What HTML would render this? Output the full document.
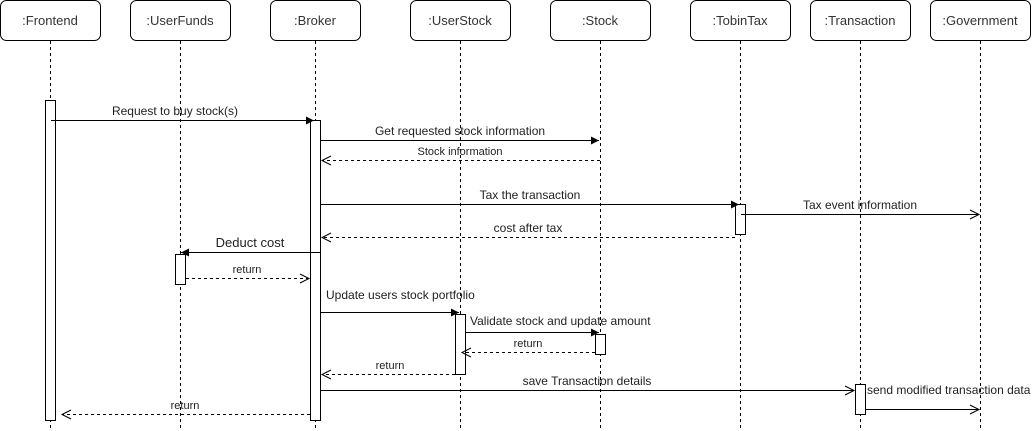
<!DOCTYPE html>
<html><head><meta charset="utf-8"><style>
html,body{margin:0;padding:0;background:#fff;}
svg{display:block;font-family:"Liberation Sans",Arial,sans-serif;}
</style></head><body>
<svg width="1034" height="431" viewBox="0 0 1034 431" xmlns="http://www.w3.org/2000/svg">
<defs>
<marker id="f" markerWidth="10" markerHeight="10" refX="9" refY="5" orient="auto" markerUnits="userSpaceOnUse"><path d="M1,1 L9,5 L1,9 Z" fill="#000"/></marker>
<marker id="o" markerWidth="12" markerHeight="12" refX="10" refY="6" orient="auto" markerUnits="userSpaceOnUse"><path d="M1,1.5 L10,6 L1,10.5" fill="none" stroke="#000" stroke-width="1"/></marker>
</defs>
<g fill="#fff" stroke="#000" stroke-width="1">
<rect x="0.5" y="0.5" width="100" height="40" rx="6"/>
<rect x="130.5" y="0.5" width="100" height="40" rx="6"/>
<rect x="270.5" y="0.5" width="90" height="40" rx="6"/>
<rect x="410.5" y="0.5" width="100" height="40" rx="6"/>
<rect x="550.5" y="0.5" width="100" height="40" rx="6"/>
<rect x="690.5" y="0.5" width="100" height="40" rx="6"/>
<rect x="810.5" y="0.5" width="100" height="40" rx="6"/>
<rect x="930.5" y="0.5" width="100" height="40" rx="6"/>
</g>
<g font-size="13" text-anchor="middle" fill="#333">
<text x="50" y="25">:Frontend</text>
<text x="180" y="25">:UserFunds</text>
<text x="315" y="25">:Broker</text>
<text x="460" y="25">:UserStock</text>
<text x="600" y="25">:Stock</text>
<text x="740" y="25">:TobinTax</text>
<text x="860" y="25">:Transaction</text>
<text x="980" y="25">:Government</text>
</g>
<g stroke="#000" stroke-dasharray="3,3">
<line x1="50.5" y1="41" x2="50.5" y2="431"/>
<line x1="180.5" y1="41" x2="180.5" y2="431"/>
<line x1="315.5" y1="41" x2="315.5" y2="431"/>
<line x1="460.5" y1="41" x2="460.5" y2="431"/>
<line x1="600.5" y1="41" x2="600.5" y2="431"/>
<line x1="740.5" y1="41" x2="740.5" y2="431"/>
<line x1="860.5" y1="41" x2="860.5" y2="431"/>
<line x1="980.5" y1="41" x2="980.5" y2="431"/>
</g>
<g fill="#fff" stroke="#000">
<rect x="45.5" y="100.5" width="10" height="320"/>
<rect x="310.5" y="120.5" width="10" height="300"/>
<rect x="175.5" y="254.5" width="10" height="30"/>
<rect x="735.5" y="204.5" width="10" height="30"/>
<rect x="455.5" y="314.5" width="10" height="60"/>
<rect x="595.5" y="334.5" width="10" height="20"/>
<rect x="855.5" y="384.5" width="10" height="30"/>
</g>
<g stroke="#000" fill="none">
<line x1="51" y1="120.5" x2="314" y2="120.5" marker-end="url(#f)"/>
<line x1="321" y1="140.5" x2="599" y2="140.5" marker-end="url(#f)"/>
<line x1="600" y1="160.5" x2="322" y2="160.5" stroke-dasharray="3,3" marker-end="url(#o)"/>
<line x1="321" y1="204.5" x2="739" y2="204.5" marker-end="url(#f)"/>
<line x1="741" y1="214.5" x2="979" y2="214.5" marker-end="url(#o)"/>
<line x1="735" y1="237.5" x2="322" y2="237.5" stroke-dasharray="3,3" marker-end="url(#o)"/>
<line x1="320" y1="252.5" x2="181" y2="252.5" marker-end="url(#f)"/>
<line x1="186" y1="278.5" x2="309" y2="278.5" stroke-dasharray="3,3" marker-end="url(#o)"/>
<line x1="321" y1="312.5" x2="459" y2="312.5" marker-end="url(#f)"/>
<line x1="466" y1="332.5" x2="599" y2="332.5" marker-end="url(#f)"/>
<line x1="595" y1="352.5" x2="462" y2="352.5" stroke-dasharray="3,3" marker-end="url(#o)"/>
<line x1="455" y1="374.5" x2="322" y2="374.5" stroke-dasharray="3,3" marker-end="url(#o)"/>
<line x1="321" y1="390.5" x2="854" y2="390.5" marker-end="url(#o)"/>
<line x1="866" y1="409.5" x2="979" y2="409.5" marker-end="url(#o)"/>
<line x1="310" y1="414.5" x2="62" y2="414.5" stroke-dasharray="3,3" marker-end="url(#o)"/>
</g>
<g font-size="12" fill="#222" text-anchor="middle">
<text x="175" y="115">Request to buy stock(s)</text>
<text x="460" y="135">Get requested stock information</text>
<text x="460" y="155" font-size="11">Stock information</text>
<text x="530" y="199">Tax the transaction</text>
<text x="860" y="209">Tax event information</text>
<text x="528" y="232">cost after tax</text>
<text x="250" y="247" font-size="13">Deduct cost</text>
<text x="247" y="273" font-size="11">return</text>
<text x="326" y="299" text-anchor="start">Update users stock portfolio</text>
<text x="470" y="325" text-anchor="start">Validate stock and update amount</text>
<text x="528" y="347" font-size="11">return</text>
<text x="390" y="369" font-size="11">return</text>
<text x="587" y="385">save Transaction details</text>
<text x="867" y="394" text-anchor="start">send modified transaction data</text>
<text x="185" y="409" font-size="11">return</text>
</g>
</svg>
</body></html>
